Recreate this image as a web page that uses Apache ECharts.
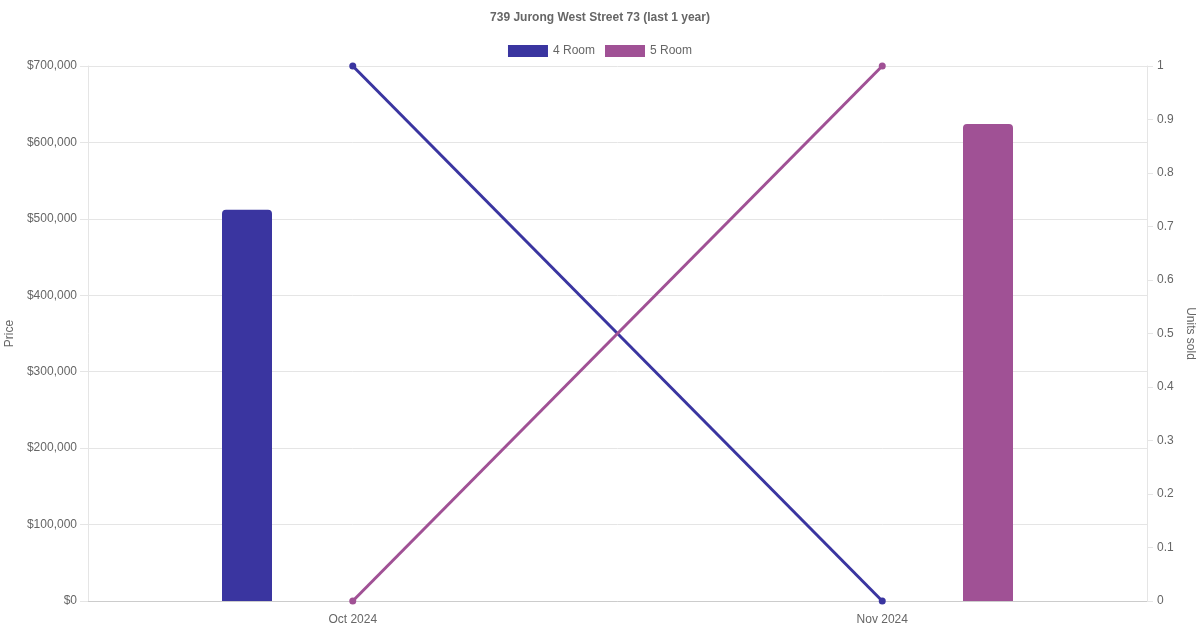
<!DOCTYPE html>
<html>
<head>
<meta charset="utf-8">
<script src="https://cdn.jsdelivr.net/npm/echarts@6/dist/echarts.min.js"></script>
<style>
  html, body { margin: 0; padding: 0; background: #fff; }
  #chart { width: 1200px; height: 630px; }
</style>
</head>
<body>
<div id="chart"></div>
<script>
  // values
  const months = ["Oct 2024", "Nov 2024"];
  const price4Room = [512000, null];
  const price5Room = [null, 624000];
  const units4Room = [1, 0];
  const units5Room = [0, 1];

  const color4 = "#3a35a0";
  const color5 = "#a05195";
  const font = "Liberation Sans, Arial, Helvetica, sans-serif";
  const textColor = "#666";
  const gridColor = "#e5e5e5";

  let myChart = echarts.init(document.getElementById("chart"));

  let option = {
    animation: false,
    textStyle: { fontFamily: font },
    title: {
      text: "739 Jurong West Street 73 (last 1 year)",
      left: "center",
      top: 7,
      textStyle: { fontSize: 12, fontWeight: "bold", color: textColor, fontFamily: font }
    },
    legend: {
      top: 40,
      left: "center",
      itemWidth: 40,
      itemHeight: 12,
      itemGap: 10,
      textStyle: { fontSize: 12, color: textColor, fontFamily: font },
      data: [
        { name: "4 Room", icon: "rect" },
        { name: "5 Room", icon: "rect" }
      ]
    },
    grid: { left: 88, right: 53, top: 66, bottom: 29, containLabel: false, outerBoundsMode: "none" },
    xAxis: {
      type: "category",
      data: months,
      axisLine: { lineStyle: { color: "#cccccc" } },
      axisTick: { show: false },
      splitLine: { show: false },
      axisLabel: { color: textColor, fontSize: 12, margin: 13, fontFamily: font }
    },
    yAxis: [
      {
        type: "value",
        name: "Price",
        nameLocation: "middle",
        nameGap: 67,
        nameRotate: 90,
        nameTextStyle: { color: textColor, fontSize: 12, fontFamily: font },
        min: 0,
        max: 700000,
        interval: 100000,
        axisLine: { show: true, lineStyle: { color: gridColor } },
        axisTick: { show: true, length: 8, lineStyle: { color: gridColor } },
        splitLine: { lineStyle: { color: gridColor } },
        axisLabel: {
          color: textColor,
          fontSize: 12,
          margin: 11,
          fontFamily: font,
          formatter: v => "$" + v.toLocaleString("en-US")
        }
      },
      {
        type: "value",
        name: "Units sold",
        nameLocation: "middle",
        nameGap: 34,
        nameRotate: -90,
        nameTextStyle: { color: textColor, fontSize: 12, fontFamily: font },
        min: 0,
        max: 1,
        interval: 0.1,
        axisLine: { show: true, lineStyle: { color: gridColor } },
        axisTick: { show: true, length: 6, lineStyle: { color: gridColor } },
        splitLine: { show: false },
        axisLabel: {
          color: textColor,
          fontSize: 12,
          margin: 10,
          fontFamily: font,
          formatter: v => String(Number(v.toFixed(1)))
        }
      }
    ],
    series: [
      {
        name: "4 Room",
        type: "bar",
        data: price4Room,
        barWidth: 50,
        barGap: "323%",
        itemStyle: { color: color4, borderRadius: [4, 4, 0, 0] }
      },
      {
        name: "5 Room",
        type: "bar",
        data: price5Room,
        barWidth: 50,
        barGap: "323%",
        itemStyle: { color: color5, borderRadius: [4, 4, 0, 0] }
      },
      {
        name: "4 Room",
        type: "line",
        yAxisIndex: 1,
        data: units4Room,
        symbol: "circle",
        symbolSize: 7,
        z: 5,
        lineStyle: { color: color4, width: 3 },
        itemStyle: { color: color4 }
      },
      {
        name: "5 Room",
        type: "line",
        yAxisIndex: 1,
        data: units5Room,
        symbol: "circle",
        symbolSize: 7,
        z: 5,
        lineStyle: { color: color5, width: 3 },
        itemStyle: { color: color5 }
      }
    ]
  };
  myChart.setOption(option);
</script>
</body>
</html>
